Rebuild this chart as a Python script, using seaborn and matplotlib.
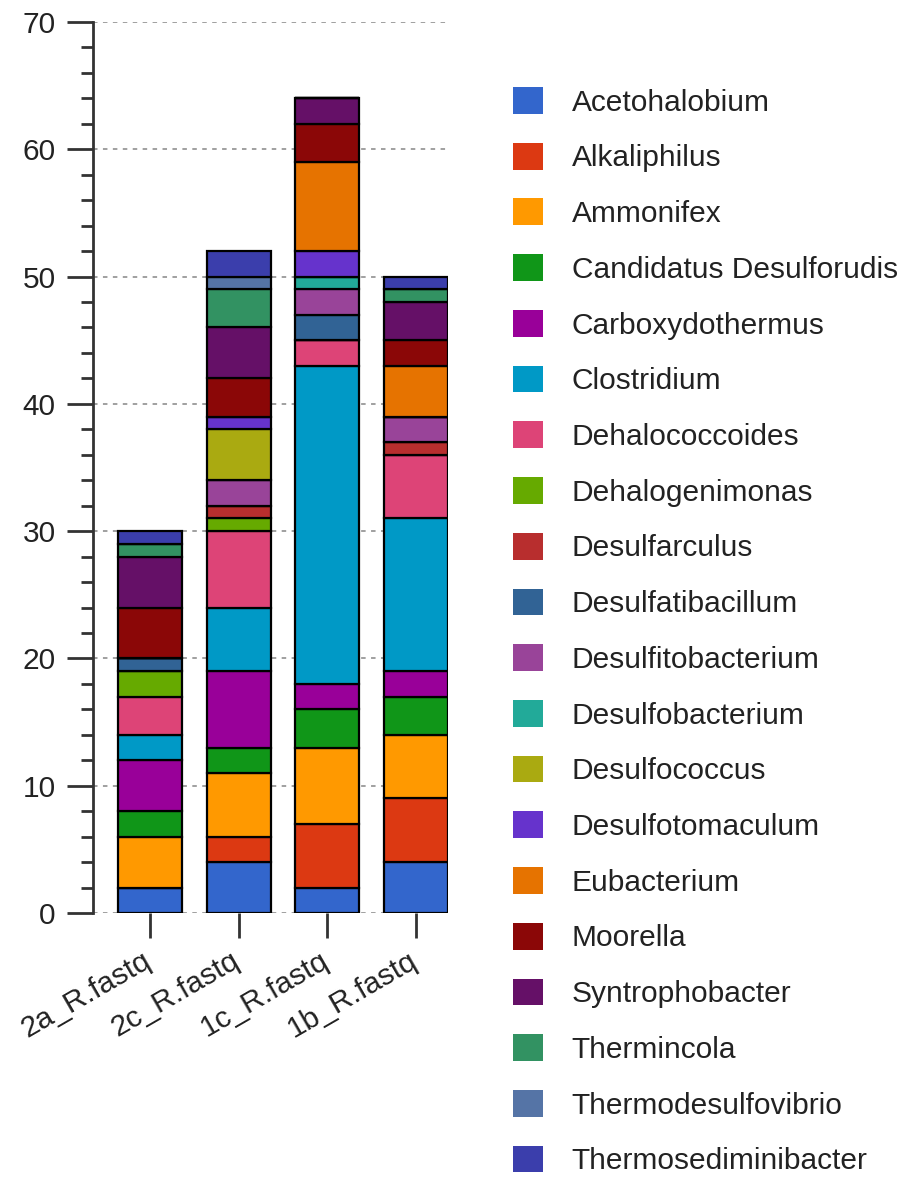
import numpy as np
import pandas as pd
import matplotlib
matplotlib.use('Agg')
import matplotlib.pyplot as plt
import matplotlib.transforms as mtransforms
from matplotlib.patches import Patch
from matplotlib.ticker import MultipleLocator
import seaborn as sns

# Samples and genera
samples = ['2a_R.fastq', '2c_R.fastq', '1c_R.fastq', '1b_R.fastq']
genera = ['Acetohalobium', 'Alkaliphilus', 'Ammonifex', 'Candidatus Desulforudis',
          'Carboxydothermus', 'Clostridium', 'Dehalococcoides', 'Dehalogenimonas',
          'Desulfarculus', 'Desulfatibacillum', 'Desulfitobacterium', 'Desulfobacterium',
          'Desulfococcus', 'Desulfotomaculum', 'Eubacterium', 'Moorella',
          'Syntrophobacter', 'Thermincola', 'Thermodesulfovibrio', 'Thermosediminibacter']

# counts per genus, one value per sample (2a, 2c, 1c, 1b)
acetohalobium = [2, 4, 2, 4]
alkaliphilus = [0, 2, 5, 5]
ammonifex = [4, 5, 6, 5]
candidatus_desulforudis = [2, 2, 3, 3]
carboxydothermus = [4, 6, 2, 2]
clostridium = [2, 5, 25, 12]
dehalococcoides = [3, 6, 2, 5]
dehalogenimonas = [2, 1, 0, 0]
desulfarculus = [0, 1, 0, 1]
desulfatibacillum = [1, 0, 2, 0]
desulfitobacterium = [0, 2, 2, 2]
desulfobacterium = [0, 0, 1, 0]
desulfococcus = [0, 4, 0, 0]
desulfotomaculum = [0, 1, 2, 0]
eubacterium = [0, 0, 7, 4]
moorella = [4, 3, 3, 2]
syntrophobacter = [4, 4, 2, 3]
thermincola = [1, 3, 0, 1]
thermodesulfovibrio = [0, 1, 0, 0]
thermosediminibacter = [1, 2, 0, 1]

counts = [acetohalobium, alkaliphilus, ammonifex, candidatus_desulforudis,
          carboxydothermus, clostridium, dehalococcoides, dehalogenimonas,
          desulfarculus, desulfatibacillum, desulfitobacterium, desulfobacterium,
          desulfococcus, desulfotomaculum, eubacterium, moorella,
          syntrophobacter, thermincola, thermodesulfovibrio, thermosediminibacter]

colors = ['#3366CC', '#DC3912', '#FF9900', '#109618', '#990099', '#0099C6',
          '#DD4477', '#66AA00', '#B82E2E', '#316395', '#994499', '#22AA99',
          '#AAAA11', '#6633CC', '#E67300', '#8B0707', '#651067', '#329262',
          '#5574A6', '#3B3EAC']

sns.set_style('white')
plt.rcParams['font.family'] = ['Liberation Sans', 'DejaVu Sans']
text_color = '#222222'

fig = plt.figure(figsize=(9.1, 11.81), dpi=100)
ax = fig.add_axes([0.1022, 0.2269, 0.390, 0.7545])

# Stacked bars
bottom = np.zeros(len(samples))
for name, vals, col in zip(genera, counts, colors):
    df = pd.DataFrame({'sample': samples, 'count': vals})
    sns.barplot(data=df, x='sample', y='count', order=samples, bottom=bottom,
                color=col, saturation=1, width=0.72, edgecolor='black',
                linewidth=1.6, ax=ax, zorder=3)
    bottom = bottom + np.array(vals)

ax.set_xlim(-0.643, 3.36)
ax.set_ylim(0, 70)
ax.yaxis.set_major_locator(MultipleLocator(10))
ax.yaxis.set_minor_locator(MultipleLocator(2))
ax.grid(axis='y', which='major', linestyle=(0, (2.5, 3)), color='#999999', linewidth=1.3, zorder=0)
ax.grid(axis='x', visible=False)
ax.set_xlabel('')
ax.set_ylabel('')

for side in ['top', 'right', 'bottom']:
    ax.spines[side].set_visible(False)
ax.spines['left'].set_color('#333333')
ax.spines['left'].set_linewidth(2)

ax.tick_params(axis='y', which='major', length=19, width=2, color='#333333',
               labelsize=21.5, labelcolor=text_color, pad=8, left=True)
ax.tick_params(axis='y', which='minor', length=9, width=2, color='#333333', left=True)
ax.tick_params(axis='x', length=18, width=2, color='#333333', bottom=True,
               labelsize=21.5, labelcolor=text_color, pad=6)
ax.set_xticks(range(len(samples)))
ax.set_xticklabels(samples, rotation=30, ha='right', rotation_mode='anchor')
shift = mtransforms.ScaledTranslation(-8 / 100, 0, fig.dpi_scale_trans)
for lbl in ax.get_xticklabels():
    lbl.set_transform(lbl.get_transform() + shift)

# Legend
handles = [Patch(facecolor=c, edgecolor='none') for c in colors]
fig.legend(handles, genera, loc='upper left', bbox_to_anchor=(0.5505, 0.9364),
           frameon=False, fontsize=21.5, handlelength=1.0, handleheight=1.0,
           handletextpad=0.97, labelspacing=0.875, borderaxespad=0,
           labelcolor=text_color)

fig.savefig('out.png', dpi=100)
